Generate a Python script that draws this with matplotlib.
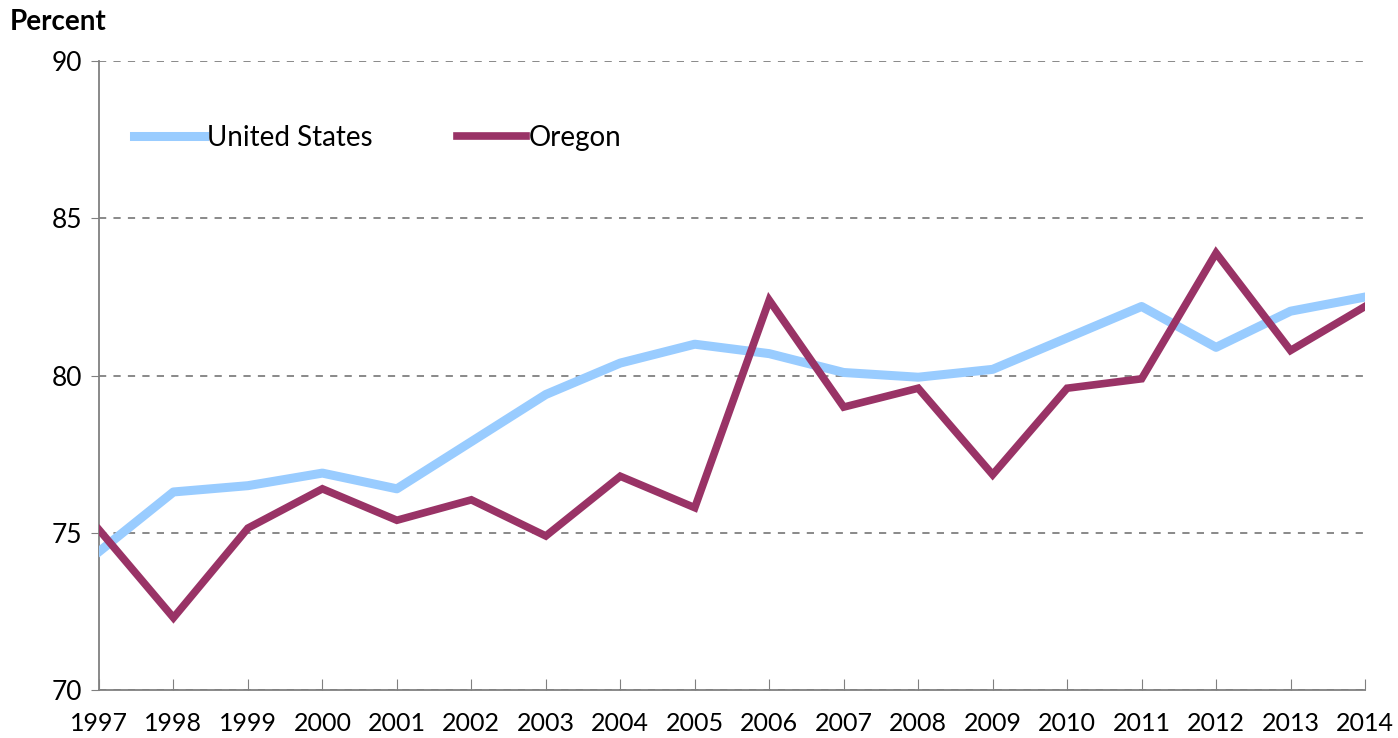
import matplotlib
matplotlib.use("Agg")
import matplotlib.pyplot as plt

# Werte (Prozent)
years = list(range(1997, 2015))
us_values = [74.4, 76.3, 76.5, 76.9, 76.4, 77.9, 79.4, 80.4, 81.0, 80.7,
             80.1, 79.95, 80.2, 81.2, 82.2, 80.9, 82.05, 82.5]
oregon_values = [75.1, 72.3, 75.15, 76.4, 75.4, 76.05, 74.9, 76.8, 75.8, 82.4,
                 79.0, 79.6, 76.85, 79.6, 79.9, 83.9, 80.8, 82.2]
y_ticks = [70, 75, 80, 85, 90]

plt.rcParams['font.family'] = ['Lato', 'DejaVu Sans']

fig = plt.figure(figsize=(13.98, 7.38), dpi=100)
ax = fig.add_axes([0.0708, 0.065, 0.9056, 0.852])

ax.plot(years, us_values, color='#99ccff', linewidth=6.5, label='United States',
        solid_joinstyle='round', zorder=3)
ax.plot(years, oregon_values, color='#993366', linewidth=5.5, label='Oregon',
        solid_joinstyle='miter', zorder=4)

ax.set_xlim(1997, 2014)
ax.set_ylim(70, 90)
ax.set_yticks(y_ticks)
ax.set_xticks(years)
ax.set_xticklabels([str(y) for y in years], fontsize=18)
ax.set_yticklabels([str(v) for v in y_ticks], fontsize=19)

ax.yaxis.grid(True, linestyle=(0, (4, 4)), color='#808080', linewidth=1.3)
ax.set_axisbelow(True)
ax.tick_params(axis='x', direction='in', length=8, color='#808080', pad=16)
ax.tick_params(axis='y', direction='out', length=6, color='#808080', pad=6)

for side in ['top', 'right']:
    ax.spines[side].set_visible(False)
for side in ['left', 'bottom']:
    ax.spines[side].set_color('#808080')
    ax.spines[side].set_linewidth(1.3)

ax.legend(loc='center left', bbox_to_anchor=(0.028, 0.878), ncol=2, frameon=False,
          fontsize=20, handlelength=2.5, handletextpad=0.1, columnspacing=3.05,
          borderaxespad=0, borderpad=0)

fig.text(0.007, 0.97, 'Percent', fontsize=20, fontweight='bold', va='center', ha='left')

fig.savefig('out.png', dpi=100)
